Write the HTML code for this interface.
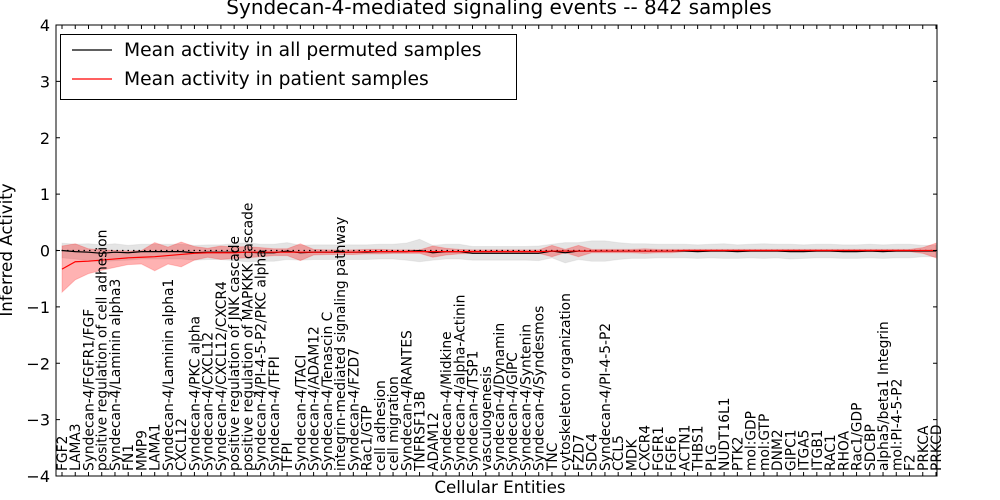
<!DOCTYPE html>
<html><head><meta charset="utf-8"><style>
html,body{margin:0;padding:0;background:#fff;}
svg{display:block;font-family:"DejaVu Sans","Liberation Sans",sans-serif;}
</style></head><body>
<svg id="chart" width="1000" height="500" viewBox="0 0 1000 500"></svg>
<script>
const categories=["FGF2","LAMA3","Syndecan-4/FGFR1/FGF","positive regulation of cell adhesion","Syndecan-4/Laminin alpha3","FN1","MMP9","LAMA1","Syndecan-4/Laminin alpha1","CXCL12","Syndecan-4/PKC alpha","Syndecan-4/CXCL12","Syndecan-4/CXCL12/CXCR4","positive regulation of JNK cascade","positive regulation of MAPKKK cascade","Syndecan-4/PI-4-5-P2/PKC alpha","Syndecan-4/TFPI","TFPI","Syndecan-4/TACI","Syndecan-4/ADAM12","Syndecan-4/Tenascin C","integrin-mediated signaling pathway","Syndecan-4/FZD7","Rac1/GTP","cell adhesion","cell migration","Syndecan-4/RANTES","TNFRSF13B","ADAM12","Syndecan-4/Midkine","Syndecan-4/alpha-Actinin","Syndecan-4/TSP1","vasculogenesis","Syndecan-4/Dynamin","Syndecan-4/GIPC","Syndecan-4/Syntenin","Syndecan-4/Syndesmos","TNC","cytoskeleton organization","FZD7","SDC4","Syndecan-4/PI-4-5-P2","CCL5","MDK","CXCR4","FGFR1","FGF6","ACTN1","THBS1","PLG","NUDT16L1","PTK2","mol:GDP","mol:GTP","DNM2","GIPC1","ITGA5","ITGB1","RAC1","RHOA","Rac1/GDP","SDCBP","alpha5/beta1 Integrin","mol:PI-4-5-P2","F2","PRKCA","PRKCD"];
const patientMean=[-0.33,-0.2,-0.19,-0.17,-0.15,-0.13,-0.12,-0.11,-0.09,-0.07,-0.05,-0.04,-0.04,-0.04,-0.03,-0.03,-0.03,-0.03,-0.03,-0.03,-0.03,-0.03,-0.03,-0.02,-0.02,-0.02,-0.02,-0.02,-0.02,-0.02,-0.02,-0.02,-0.02,-0.02,-0.02,-0.02,-0.02,-0.01,-0.01,-0.01,-0.01,-0.01,-0.01,-0.01,-0.01,-0.01,-0.01,0,0,0,0,0,0,0,0,0,0,0,0,0,0,0,0,0,0,0,0];
const patientSd=[0.41,0.32,0.22,0.18,0.15,0.12,0.12,0.25,0.15,0.22,0.12,0.08,0.12,0.1,0.1,0.08,0.06,0.06,0.15,0.05,0.04,0.04,0.04,0.04,0.04,0.03,0.03,0.03,0.1,0.06,0.04,0.03,0.03,0.03,0.03,0.03,0.03,0.1,0.03,0.1,0.03,0.03,0.03,0.03,0.04,0.03,0.03,0.02,0.02,0.02,0.02,0.02,0.02,0.02,0.02,0.02,0.02,0.02,0.02,0.02,0.02,0.02,0.02,0.02,0.02,0.05,0.13];
const permMean=[0,-0.02,-0.03,-0.05,-0.03,-0.04,-0.02,-0.02,-0.02,-0.02,-0.04,-0.03,-0.03,-0.03,-0.03,-0.04,-0.04,-0.01,-0.04,-0.03,-0.03,-0.03,-0.03,-0.03,-0.02,-0.02,-0.02,0,-0.04,-0.02,-0.02,-0.05,-0.05,-0.05,-0.05,-0.05,-0.05,-0.01,-0.04,-0.01,-0.01,-0.01,-0.01,-0.01,-0.01,-0.01,-0.01,-0.01,-0.02,-0.01,-0.01,-0.02,-0.01,-0.01,-0.01,-0.02,-0.02,-0.01,-0.01,-0.02,-0.02,-0.01,-0.02,-0.01,-0.01,-0.01,-0.01];
const permSd=[0.13,0.13,0.15,0.15,0.15,0.13,0.13,0.13,0.13,0.13,0.13,0.13,0.13,0.15,0.17,0.15,0.15,0.15,0.13,0.13,0.13,0.13,0.13,0.13,0.13,0.13,0.15,0.2,0.13,0.13,0.13,0.12,0.12,0.12,0.12,0.12,0.13,0.12,0.18,0.15,0.18,0.18,0.15,0.13,0.13,0.12,0.12,0.12,0.12,0.12,0.13,0.12,0.12,0.13,0.12,0.13,0.12,0.12,0.12,0.12,0.12,0.12,0.12,0.12,0.12,0.1,0.1];
const yTicks=[4,3,2,1,0,-1,-2,-3,-4];

const NS="http://www.w3.org/2000/svg";
const svg=document.getElementById('chart');
const L=56,R=937,T=25,B=476;
function xs(i){return 62+i*(936-62)/(categories.length-1);}
function ys(v){return T+(4-v)*(B-T)/8;}
function mk(tag,attrs,parent){const e=document.createElementNS(NS,tag);for(const k in attrs)e.setAttribute(k,attrs[k]);(parent||svg).appendChild(e);return e;}

function band(mean,sd,fill,op,name){
  let pts=[];
  for(let i=0;i<mean.length;i++)pts.push(xs(i)+','+ys(mean[i]+sd[i]));
  for(let i=mean.length-1;i>=0;i--)pts.push(xs(i)+','+ys(mean[i]-sd[i]));
  const p=mk('polygon',{points:pts.join(' '),fill:fill,'fill-opacity':op,stroke:fill,'stroke-opacity':op*0.6});
  
  
}
function line(mean,color,name,w){
  const p=mk('polyline',{points:mean.map((v,i)=>xs(i)+','+ys(v)).join(' '),fill:'none',stroke:color,'stroke-width':w});
  
  
}
band(permMean,permSd,'#bbbbbb',0.4,'permuted-band');
band(patientMean,patientSd,'#ff0000',0.3,'patient-band');
const z=mk('line',{x1:L,x2:R,y1:ys(0),y2:ys(0),stroke:'#000','stroke-dasharray':'1.5,4','stroke-width':1.2});


line(permMean,'#000','permuted-mean-line',1.2);
line(patientMean,'#ff0000','patient-mean-line',1.2);

const frame=mk('rect',{x:L,y:T,width:R-L,height:B-T,fill:'none',stroke:'#000','stroke-width':1});



yTicks.forEach(v=>{
  const y=ys(v);
  mk('line',{x1:L,x2:L+4,y1:y,y2:y,stroke:'#000'});
  mk('line',{x1:R-4,x2:R,y1:y,y2:y,stroke:'#000'});
  const t=mk('text',{x:L-6,y:y+6,'text-anchor':'end','font-size':16});
  t.textContent=String(v).replace('-','\u2212');
  
  
});
categories.forEach((c,i)=>{
  const x=xs(i);
  mk('line',{x1:x,x2:x,y1:B,y2:B-4,stroke:'#000'});
  mk('line',{x1:x,x2:x,y1:T,y2:T+4,stroke:'#000'});
  const t=mk('text',{x:0,y:0,transform:`translate(${x+5},471) rotate(-90)`,'font-size':13.8});
  t.textContent=c;
  
  
});

const title=mk('text',{x:499,y:14,'text-anchor':'middle','font-size':20});
title.textContent='Syndecan-4-mediated signaling events -- 842 samples';


const xt=mk('text',{x:500,y:493,'text-anchor':'middle','font-size':16.7});
xt.textContent='Cellular Entities';


const yt=mk('text',{x:0,y:0,transform:'translate(12,250) rotate(-90)','text-anchor':'middle','font-size':16.7});
yt.textContent='Inferred Activity';



const lg=mk('g',{});


mk('rect',{x:60.5,y:34.5,width:456,height:65,fill:'#fff',stroke:'#000'},lg);
mk('line',{x1:72,x2:112,y1:50,y2:50,stroke:'#000','stroke-width':1.2},lg);
mk('line',{x1:72,x2:112,y1:79,y2:79,stroke:'#f00','stroke-width':1.2},lg);
const l1=mk('text',{x:124,y:56,'font-size':18.7},lg);
l1.textContent='Mean activity in all permuted samples';


const l2=mk('text',{x:124,y:85,'font-size':18.7},lg);
l2.textContent='Mean activity in patient samples';


</script>
</body></html>
